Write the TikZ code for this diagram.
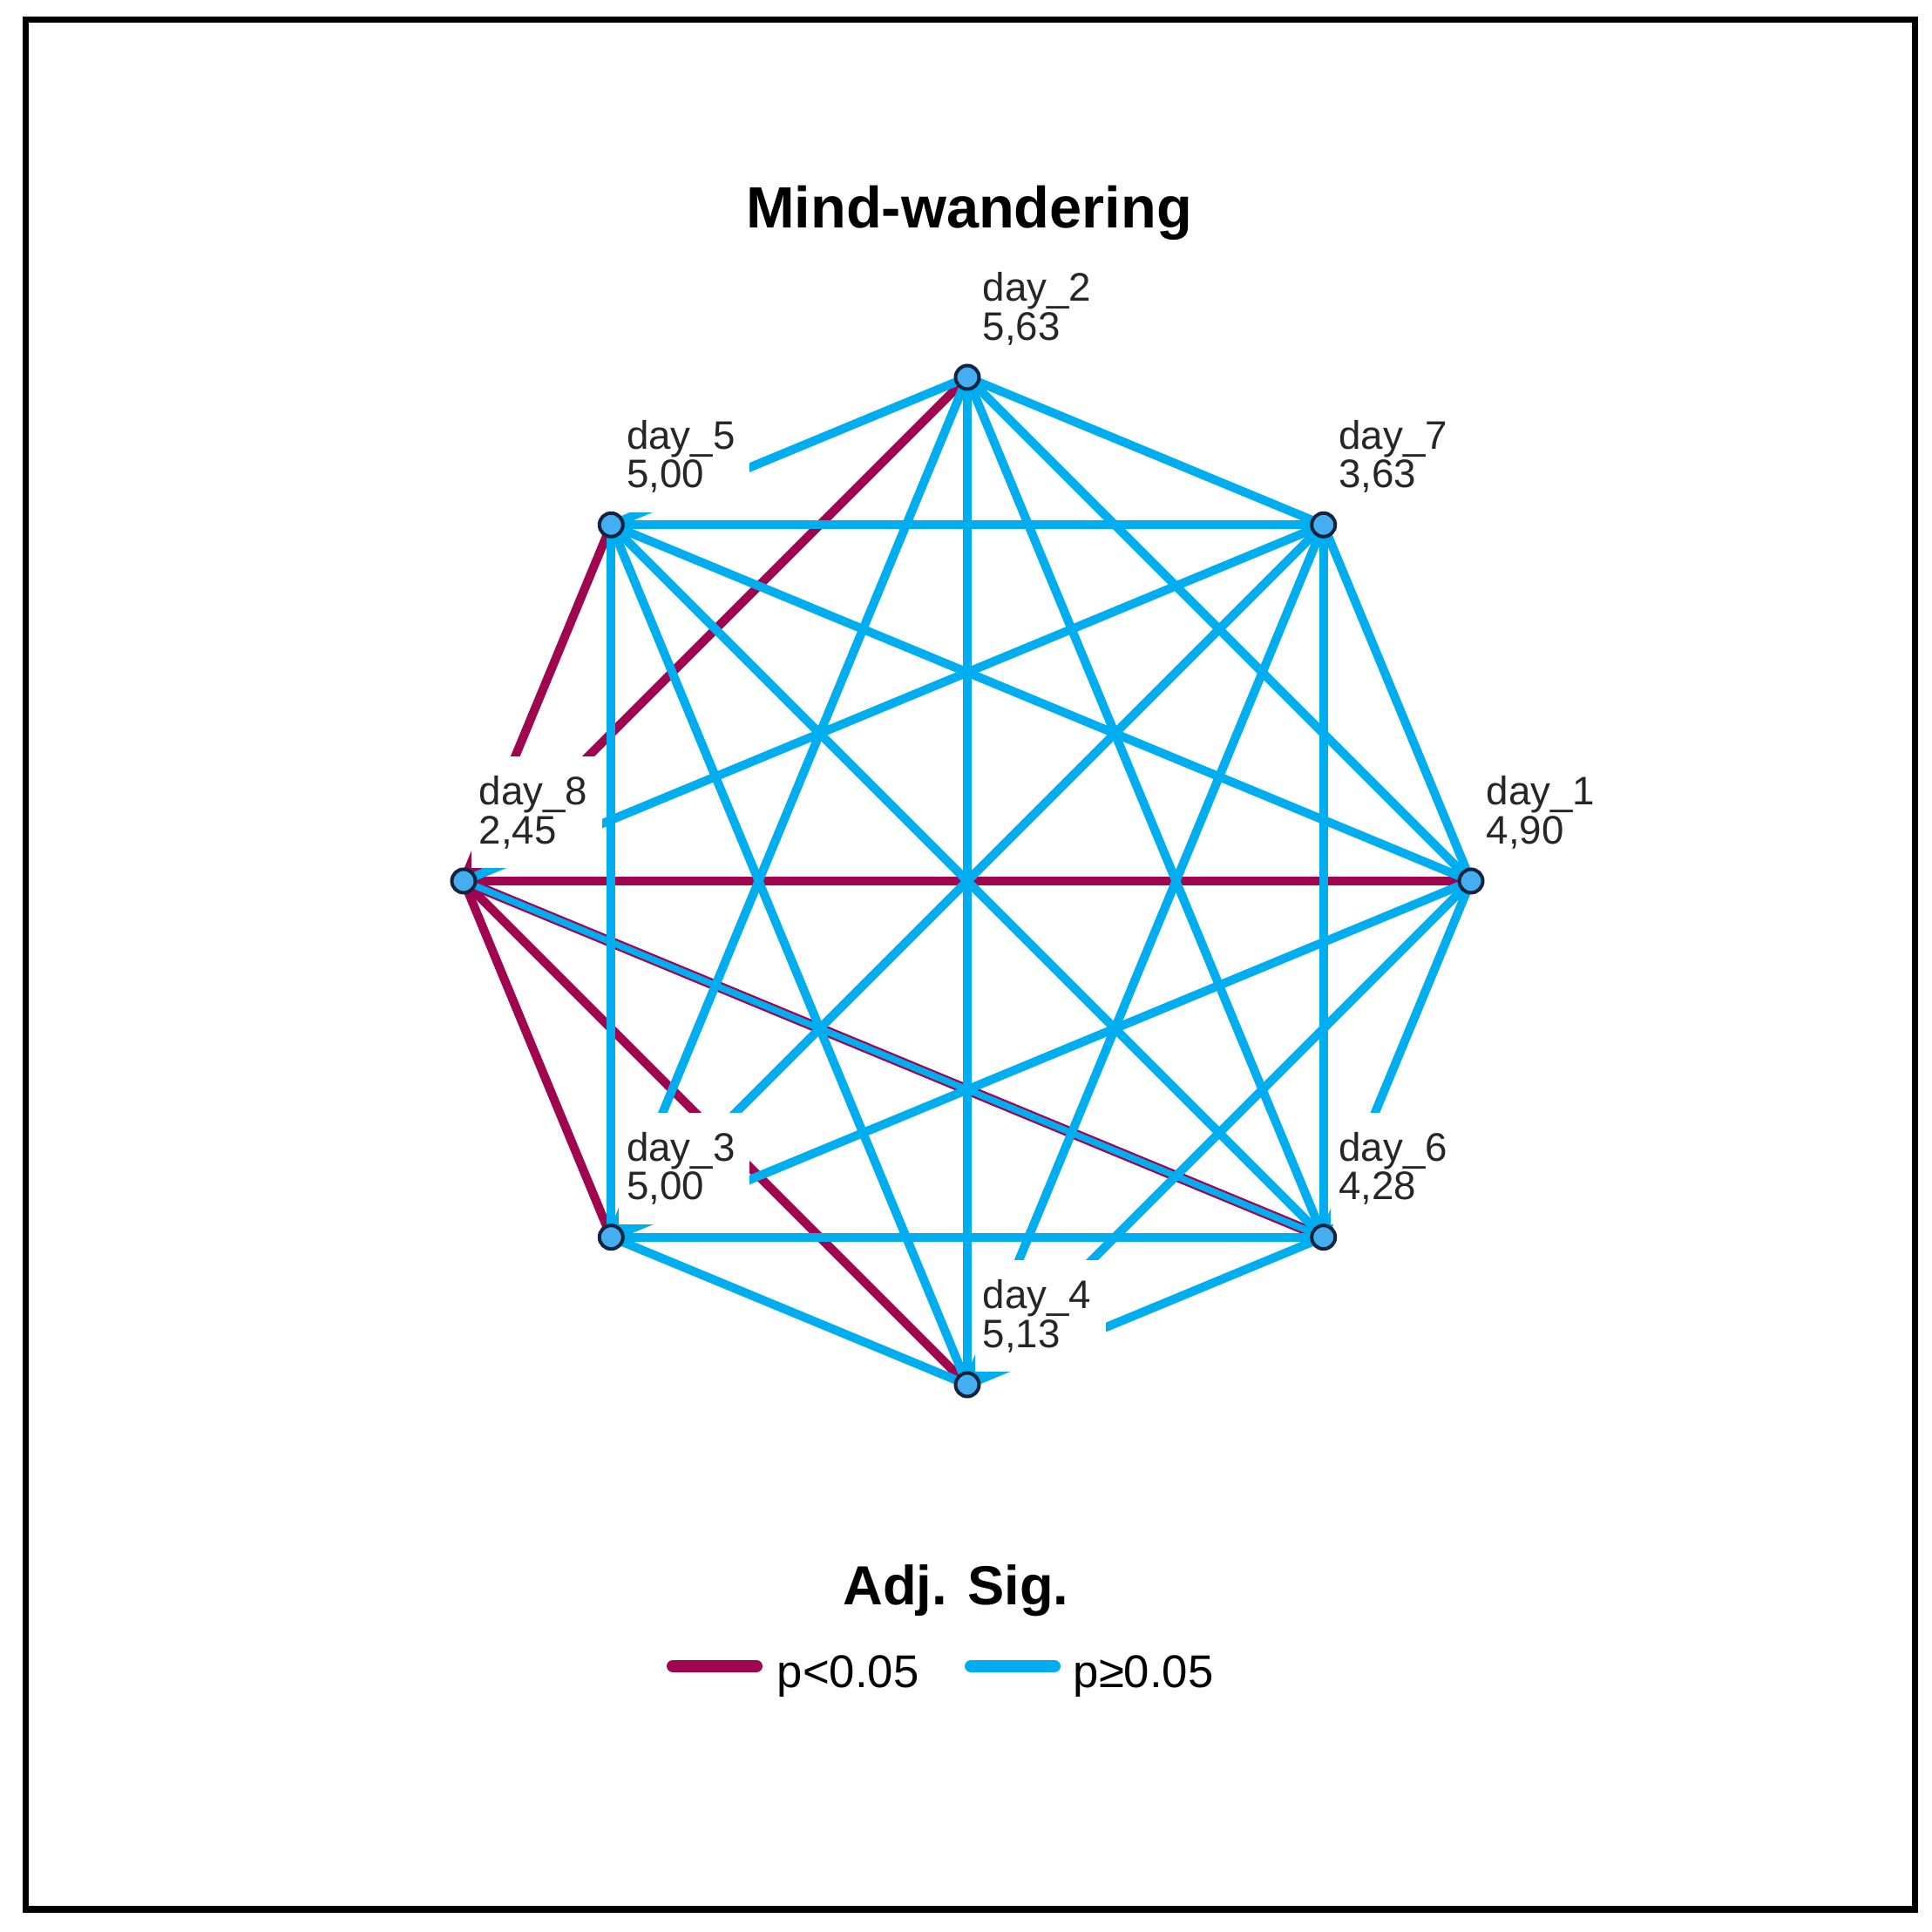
\documentclass[tikz,border=0pt]{standalone}
\usepackage{fontspec}
\setmainfont{Liberation Sans}
\usetikzlibrary{calc,positioning,backgrounds}
\definecolor{sigcolor}{HTML}{A0054F}
\definecolor{nsigcolor}{HTML}{00AEEF}
\definecolor{dotcolor}{HTML}{45AEF0}
\definecolor{dotborder}{HTML}{14233F}

\tikzset{
  daydot/.style={circle, draw=dotborder, fill=dotcolor, line width=.04cm, minimum size=.27cm, inner sep=0pt},
  daylabel/.style={fill=white, text=black!85, inner xsep=.09cm, inner ysep=0pt, text width=1.32cm, minimum height=1.28cm, align=left, font=\fontsize{13}{12.6}\selectfont},
  sigline/.style={draw=sigcolor, line width=.1cm},
  nsigline/.style={draw=nsigcolor, line width=.1cm},
  legtext/.style={anchor=base west, inner sep=0pt, font=\fontsize{15}{15}\selectfont},
}

\begin{document}
\begin{tikzpicture}
  \useasboundingbox (0,0) rectangle (22.17,22.17);
  % frame
  \draw[line width=.07cm] (.295,.26) rectangle (21.97,21.945);
  % title
  \node[anchor=base, font=\fontsize{19}{19}\bfseries] (title) at (11.12,19.55) {Mind-wandering};
  % days on an octagon
  \coordinate (C) at (11.10,12.06);
  \foreach \d/\ang in {2/90, 7/45, 1/0, 6/-45, 4/-90, 3/-135, 8/180, 5/135}
    \node[daydot] (n\d) at ($(C)+(\ang:5.78)$) {};
  % mean ranks
  \foreach \d/\v in {2/{5,63}, 7/{3,63}, 1/{4,90}, 6/{4,28}, 4/{5,13}, 3/{5,00}, 8/{2,45}, 5/{5,00}}
    \node[daylabel, above right=.14cm and .08cm of n\d.center] (l\d) {day\_\d\\\v};
  % pairwise comparisons
  \begin{scope}[on background layer]
    \foreach \a in {2,5,1,3,4}
      \draw[sigline] (n8.center) -- (n\a.center);
    \draw[sigline, line width=.12cm] (n8.center) -- (n6.center);
    \draw[nsigline, line width=.075cm] (n8.center) -- (n6.center);
    \foreach \a/\b in {1/2,1/3,1/4,1/5,1/6,1/7,2/3,2/4,2/5,2/6,2/7,3/4,3/5,3/6,3/7,4/5,4/6,4/7,5/6,5/7,6/7,8/7}
      \draw[nsigline] (n\a.center) -- (n\b.center);
  \end{scope}
  % legend
  \node[anchor=base, font=\fontsize{18}{18}\bfseries] (legtitle) at (10.97,3.75) {Adj. Sig.};
  \node[legtext] (sigtext) at (8.91,2.80) {p<0.05};
  \node[legtext] (nsigtext) at (12.31,2.80) {p≥0.05};
  \coordinate (sigA) at (7.72,3.05); \coordinate (sigB) at (8.68,3.05);
  \coordinate (nsigA) at (11.14,3.05); \coordinate (nsigB) at (12.10,3.05);
  \draw[sigline, line width=.14cm, line cap=round] (sigA) -- (sigB);
  \draw[nsigline, line width=.14cm, line cap=round] (nsigA) -- (nsigB);
\end{tikzpicture}
\end{document}
